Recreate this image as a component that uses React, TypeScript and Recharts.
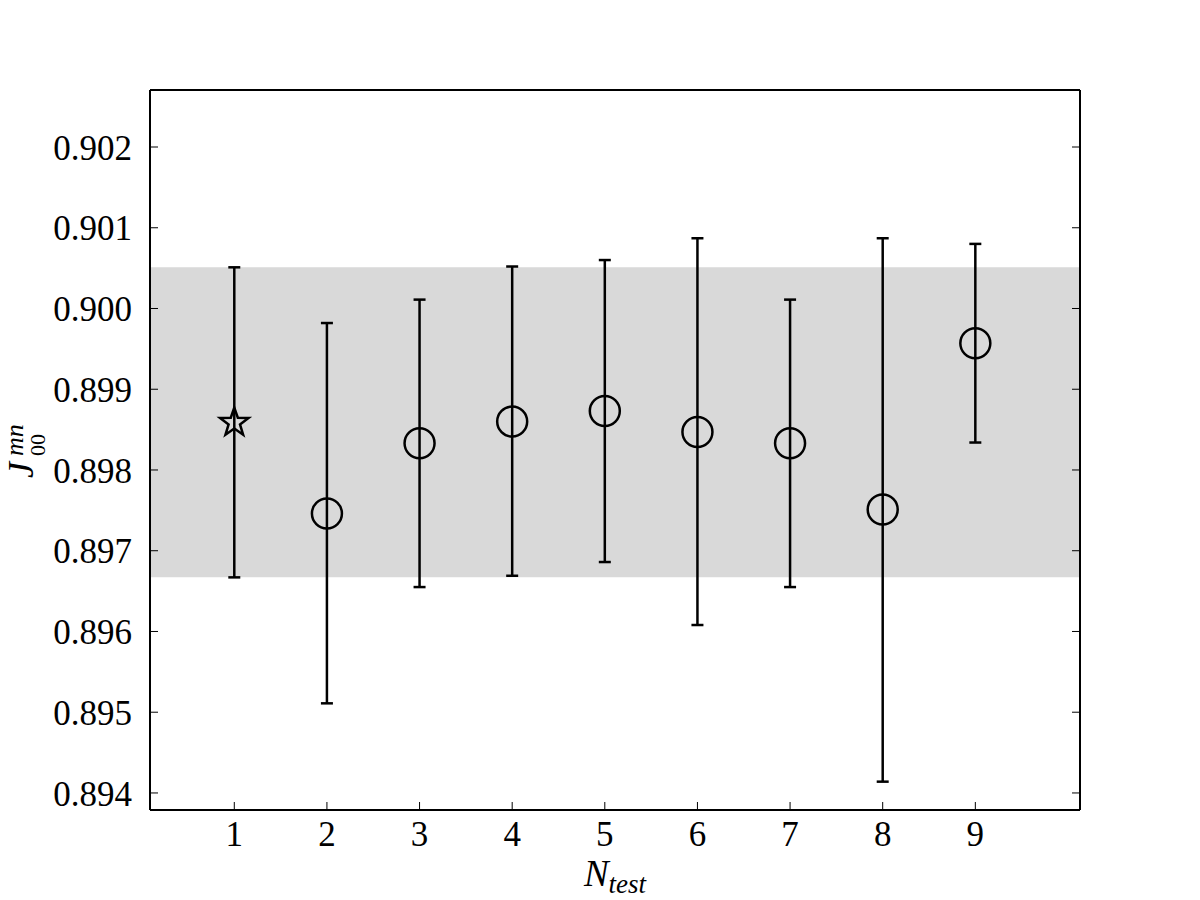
import { ComposedChart, Scatter, ErrorBar, XAxis, YAxis, ReferenceArea } from 'recharts';

// N_test values and the J_00^mn estimates with their error limits
const nTest = [1, 2, 3, 4, 5, 6, 7, 8, 9];
const jValues = [0.8986, 0.89746, 0.89833, 0.8986, 0.89873, 0.89847, 0.89833, 0.89751, 0.89957];
const jLower = [0.89667, 0.89511, 0.89655, 0.89669, 0.89686, 0.89608, 0.89655, 0.89414, 0.89834];
const jUpper = [0.90051, 0.89982, 0.90011, 0.90052, 0.9006, 0.90087, 0.90011, 0.90087, 0.9008];
const markers = ['star', 'circle', 'circle', 'circle', 'circle', 'circle', 'circle', 'circle', 'circle'];

// shaded band = reference error range
const band = [0.89667, 0.90051];

const xTicks = [1, 2, 3, 4, 5, 6, 7, 8, 9];
const yTicks = [0.894, 0.895, 0.896, 0.897, 0.898, 0.899, 0.9, 0.901, 0.902];

const FONT = '"Liberation Serif", "DejaVu Serif", serif';
const TICK_LEN = 8;
const X_GAP = 10;
const Y_GAP = 18;

const points = nTest.map((n, i) => ({
  n,
  j: jValues[i],
  err: [jValues[i] - jLower[i], jUpper[i] - jValues[i]],
  marker: markers[i],
}));

const starPath = (cx: number, cy: number, outer: number, inner: number) => {
  let d = '';
  for (let k = 0; k < 10; k++) {
    const r = k % 2 === 0 ? outer : inner;
    const a = -Math.PI / 2 + (k * Math.PI) / 5;
    d += (k === 0 ? 'M' : 'L') + (cx + r * Math.cos(a)).toFixed(2) + ',' + (cy + r * Math.sin(a)).toFixed(2);
  }
  return d + 'Z';
};

const Marker = (props: any) => {
  const { cx, cy, payload } = props;
  if (payload.marker === 'star') {
    return <path d={starPath(cx, cy + 1, 15, 6)} fill="none" stroke="#000" strokeWidth={2.5} strokeLinejoin="miter" />;
  }
  return <circle cx={cx} cy={cy} r={15} fill="none" stroke="#000" strokeWidth={2.5} />;
};

// ticks point into the plot, like the original
const BottomTick = ({ x, y, payload }: any) => (
  <g>
    <line x1={x} x2={x} y1={y - X_GAP} y2={y - X_GAP - TICK_LEN} stroke="#000" strokeWidth={1} />
    <text x={x} y={y} dy="0.75em" textAnchor="middle" fill="#000" fontSize={35} fontFamily={FONT}>
      {payload.value}
    </text>
  </g>
);

const LeftTick = ({ x, y, payload }: any) => (
  <g>
    <line x1={x + Y_GAP} x2={x + Y_GAP + TICK_LEN} y1={y} y2={y} stroke="#000" strokeWidth={1} />
    <text x={x} y={y} dy="0.36em" textAnchor="end" fill="#000" fontSize={35} fontFamily={FONT}>
      {Number(payload.value).toFixed(3)}
    </text>
  </g>
);

const TopTick = ({ x, y }: any) => <line x1={x} x2={x} y1={y} y2={y + TICK_LEN} stroke="#000" strokeWidth={1} />;

const RightTick = ({ x, y }: any) => <line x1={x} x2={x - TICK_LEN} y1={y} y2={y} stroke="#000" strokeWidth={1} />;

const axisLine = { stroke: '#000', strokeWidth: 2 };

export default function App() {
  return (
    <div style={{ position: 'absolute', left: 0, top: 0, width: 1200, height: 900, background: '#fff' }}>
      <ComposedChart width={1200} height={900} margin={{ top: 89, right: 119, bottom: 0, left: 0 }}>
        <XAxis
          type="number"
          dataKey="n"
          domain={[0.09, 10.13]}
          ticks={xTicks}
          allowDataOverflow
          height={90}
          tickSize={0}
          tickMargin={X_GAP}
          axisLine={axisLine}
          tickLine={false}
          tick={BottomTick}
        />
        <XAxis
          xAxisId="top"
          orientation="top"
          type="number"
          domain={[0.09, 10.13]}
          ticks={xTicks}
          allowDataOverflow
          height={1}
          tickSize={0}
          tickMargin={0}
          axisLine={axisLine}
          tickLine={false}
          tick={TopTick}
        />
        <YAxis
          type="number"
          dataKey="j"
          domain={[0.893789, 0.902706]}
          ticks={yTicks}
          allowDataOverflow
          width={150}
          tickSize={0}
          tickMargin={Y_GAP}
          axisLine={axisLine}
          tickLine={false}
          tick={LeftTick}
        />
        <YAxis
          yAxisId="right"
          orientation="right"
          type="number"
          domain={[0.893789, 0.902706]}
          ticks={yTicks}
          allowDataOverflow
          width={1}
          tickSize={0}
          tickMargin={0}
          axisLine={axisLine}
          tickLine={false}
          tick={RightTick}
        />
        <ReferenceArea y1={band[0]} y2={band[1]} fill="#d9d9d9" fillOpacity={1} stroke="none" />
        <Scatter data={points} shape={Marker} isAnimationActive={false}>
          <ErrorBar dataKey="err" direction="y" width={6} stroke="#000" strokeWidth={2.5} isAnimationActive={false} />
        </Scatter>
        <text x={615} y={886} textAnchor="middle" fontFamily={FONT} fontStyle="italic" fontSize={37} fill="#000">
          N<tspan fontSize={27} dy={7}>test</tspan>
        </text>
        <text transform="translate(33,478) rotate(-90)" fontFamily={FONT} fontStyle="italic" fontSize={36} fill="#000">
          J
          <tspan x={22} y={12} fontSize={22} fontStyle="normal">00</tspan>
          <tspan x={22} y={-10} fontSize={26}>mn</tspan>
        </text>
      </ComposedChart>
    </div>
  );
}
